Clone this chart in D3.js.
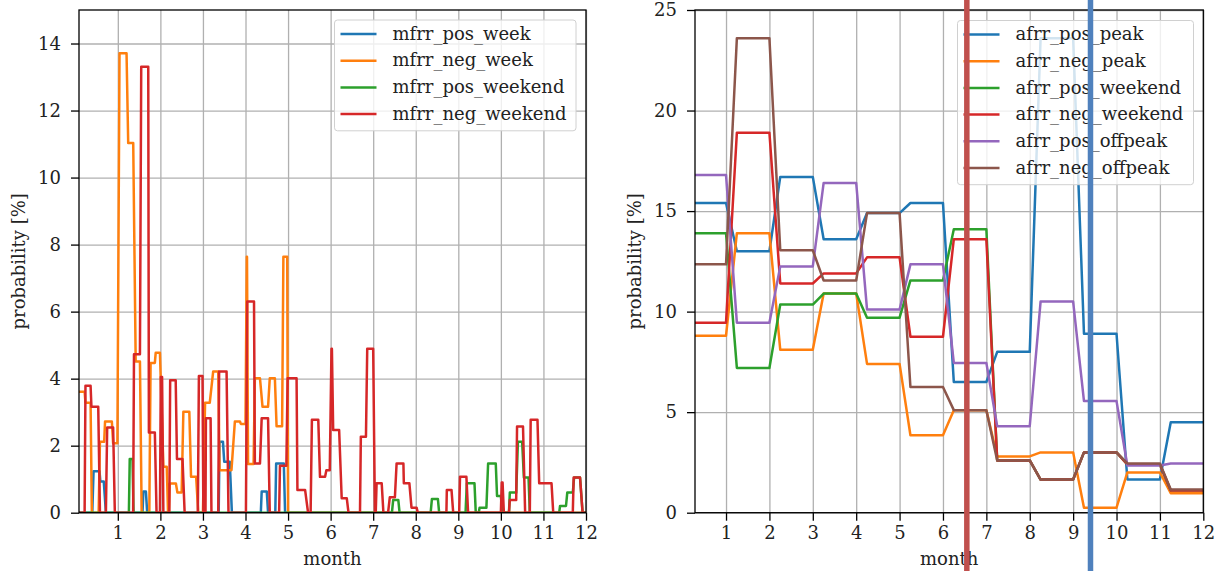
<!DOCTYPE html>
<html>
<head>
<meta charset="utf-8">
<script src="https://cdn.jsdelivr.net/npm/d3@7/dist/d3.min.js"></script>
<style>
  body { margin: 0; background: #fff; }
  svg { font-family: "DejaVu Serif", serif; }
</style>
</head>
<body>
<svg id="chart" width="1216" height="571"></svg>
<script>
// ---- left panel: flat runs, [from month, to month, probability %]
const mfrrPosWeek = [
  [0.088, 0.40, 0], [0.43, 0.57, 1.24], [0.59, 0.67, 0.93], [0.72, 1.58, 0],
  [1.60, 1.66, 0.63], [1.69, 3.37, 0], [3.39, 3.47, 2.12], [3.50, 3.63, 1.52],
  [3.68, 4.36, 0], [4.38, 4.50, 0.63], [4.53, 4.70, 0], [4.72, 4.90, 1.47],
  [4.93, 12.0, 0]
];
const mfrrNegWeek = [
  [0.088, 0.22, 3.61], [0.24, 0.36, 3.28], [0.39, 0.55, 0], [0.58, 0.68, 2.12],
  [0.70, 0.86, 2.72], [0.89, 0.99, 2.07], [1.04, 1.205, 13.71], [1.244, 1.362, 11.03],
  [1.42, 1.52, 4.51], [1.56, 1.74, 0], [1.77, 1.87, 4.47], [1.89, 1.99, 4.77],
  [2.07, 2.15, 1.37], [2.18, 2.20, 0], [2.22, 2.365, 0.87], [2.40, 2.50, 0.6],
  [2.54, 2.68, 3.01], [2.72, 2.84, 1.07], [2.89, 3.00, 0], [3.05, 3.16, 3.28],
  [3.24, 3.36, 4.21], [3.39, 3.67, 1.27], [3.75, 3.87, 2.72], [3.89, 4.00, 2.65],
  [4.03, 4.035, 7.64], [4.06, 4.19, 1.45], [4.22, 4.34, 4.01], [4.40, 4.53, 3.16],
  [4.57, 4.69, 4.01], [4.73, 4.86, 2.58], [4.89, 4.98, 7.64], [5.00, 12.0, 0]
];
const mfrrPosWeekend = [
  [0.088, 1.26, 0], [1.28, 1.345, 1.6], [1.37, 7.44, 0], [7.47, 7.59, 0.38],
  [7.62, 8.35, 0], [8.38, 8.52, 0.41], [8.55, 9.17, 0], [9.20, 9.38, 0.88],
  [9.41, 9.48, 0], [9.50, 9.66, 0.15], [9.70, 9.88, 1.47], [9.91, 10.0, 0.5],
  [10.03, 10.19, 0], [10.21, 10.36, 0.6], [10.40, 10.50, 2.12], [10.54, 10.65, 1.05],
  [10.68, 11.37, 0], [11.39, 11.53, 0.2], [11.56, 11.69, 0.6], [11.72, 11.86, 1.05],
  [11.92, 12.0, 0]
];
const mfrrNegWeekend = [
  [0.088, 0.22, 0], [0.24, 0.36, 3.79], [0.38, 0.54, 3.16], [0.58, 0.72, 0],
  [0.75, 0.89, 2.54], [0.93, 1.36, 0], [1.38, 1.52, 4.73], [1.55, 1.715, 13.31],
  [1.73, 1.87, 2.39], [1.91, 1.99, 0], [2.01, 2.04, 4.05], [2.07, 2.21, 0],
  [2.23, 2.36, 3.95], [2.39, 2.52, 1.6], [2.57, 2.88, 0], [2.905, 2.99, 4.08],
  [3.01, 3.06, 0], [3.07, 3.18, 2.82], [3.20, 3.36, 0], [3.38, 3.555, 4.21],
  [3.60, 4.01, 0], [4.04, 4.20, 6.3], [4.22, 4.34, 1.47], [4.38, 4.53, 2.82],
  [4.57, 4.79, 0], [4.81, 4.96, 1.4], [4.99, 5.20, 4.01], [5.22, 5.40, 0.68],
  [5.47, 5.53, 0], [5.56, 5.71, 2.77], [5.75, 5.87, 1.07], [5.90, 5.98, 1.27],
  [6.02, 6.03, 4.89], [6.06, 6.20, 2.47], [6.26, 6.38, 0.43], [6.42, 6.69, 0],
  [6.71, 6.83, 2.27], [6.86, 7.00, 4.89], [7.04, 7.06, 0], [7.08, 7.20, 0.88],
  [7.24, 7.35, 0], [7.39, 7.51, 0.46], [7.55, 7.71, 1.47], [7.72, 7.85, 0.88],
  [7.90, 8.02, 0.15], [8.05, 8.72, 0], [8.73, 8.84, 0.68], [8.88, 9.02, 0],
  [9.04, 9.19, 1.07], [9.23, 10.0, 0], [10.02, 10.04, 0.9], [10.07, 10.19, 0],
  [10.21, 10.36, 0.38], [10.38, 10.52, 2.57], [10.57, 10.68, 0], [10.70, 10.86, 2.77],
  [10.90, 11.19, 0.88], [11.23, 11.69, 0], [11.71, 11.86, 1.05], [11.92, 12.0, 0]
];
const leftNames = ["mfrr_pos_week", "mfrr_neg_week", "mfrr_pos_weekend", "mfrr_neg_weekend"];
const leftTicksY = [0, 2, 4, 6, 8, 10, 12, 14];

// ---- right panel: one value per month
const months = [1, 2, 3, 4, 5, 6, 7, 8, 9, 10, 11, 12];
const afrrPosPeak     = [15.4, 13.0, 16.7, 13.6, 14.9, 15.4, 6.5, 8.0, 23.6, 8.9, 1.65, 4.5];
const afrrNegPeak     = [8.8, 13.9, 8.1, 10.9, 7.4, 3.85, 5.1, 2.8, 3.0, 0.25, 2.0, 0.97];
const afrrPosWeekend  = [13.9, 7.2, 10.35, 10.9, 9.7, 11.55, 14.1, 2.6, 1.65, 3.0, 2.4, 1.1];
const afrrNegWeekend  = [9.45, 18.9, 11.4, 11.9, 12.7, 8.75, 13.6, 2.6, 1.65, 3.0, 2.4, 1.1];
const afrrPosOffpeak  = [16.8, 9.45, 12.25, 16.4, 10.1, 12.35, 7.45, 4.3, 10.5, 5.55, 2.35, 2.45];
const afrrNegOffpeak  = [12.35, 23.6, 13.05, 11.55, 14.9, 6.25, 5.1, 2.6, 1.65, 3.0, 2.45, 1.15];
const rightNames = ["afrr_pos_peak", "afrr_neg_peak", "afrr_pos_weekend",
                    "afrr_neg_weekend", "afrr_pos_offpeak", "afrr_neg_offpeak"];
const rightTicksY = [0, 5, 10, 15, 20, 25];
const monthTicks = [1, 2, 3, 4, 5, 6, 7, 8, 9, 10, 11, 12];

// two marker lines drawn over the right panel (month positions)
const markerMonths = [6.55, 9.4];
const markerColors = ["#c0504d", "#4f81bd"];

const colors = ["#1f77b4", "#ff7f0e", "#2ca02c", "#d62728", "#9467bd", "#8c564b"];

const svg = d3.select("#chart");
const FS = 18;

function panel(box, xDomain, yDomain, xTicks, yTicks, seriesPts, names, legendBox) {
  const x = d3.scaleLinear().domain(xDomain).range([box.x0, box.x1]);
  const y = d3.scaleLinear().domain(yDomain).range([box.y1, box.y0]);
  const g = svg.append("g");
  const clipId = "clip" + Math.round(box.x0);
  g.append("clipPath").attr("id", clipId).append("rect")
    .attr("x", box.x0).attr("y", box.y0)
    .attr("width", box.x1 - box.x0).attr("height", box.y1 - box.y0);

  // grid
  g.append("g").attr("transform", `translate(0,${box.y1})`)
    .call(d3.axisBottom(x).tickValues(xTicks).tickSize(-(box.y1 - box.y0)).tickFormat(""))
    .call(s => s.select(".domain").remove())
    .call(s => s.selectAll("line").attr("stroke", "#b0b0b0").attr("stroke-width", 1.3));
  g.append("g").attr("transform", `translate(${box.x0},0)`)
    .call(d3.axisLeft(y).tickValues(yTicks).tickSize(-(box.x1 - box.x0)).tickFormat(""))
    .call(s => s.select(".domain").remove())
    .call(s => s.selectAll("line").attr("stroke", "#b0b0b0").attr("stroke-width", 1.3));

  // lines
  const line = d3.line().x(d => x(d[0])).y(d => y(d[1]));
  g.append("g").attr("clip-path", `url(#${clipId})`)
    .selectAll("path").data(seriesPts).join("path")
    .attr("d", line)
    .attr("fill", "none")
    .attr("stroke", (d, i) => colors[i])
    .attr("stroke-width", 2.5)
    .attr("stroke-linejoin", "round");

  // axes
  const ax = g.append("g").attr("transform", `translate(0,${box.y1})`)
    .call(d3.axisBottom(x).tickValues(xTicks).tickSize(8).tickPadding(6));
  const ay = g.append("g").attr("transform", `translate(${box.x0},0)`)
    .call(d3.axisLeft(y).tickValues(yTicks).tickSize(8).tickPadding(10));
  [ax, ay].forEach(a => {
    a.select(".domain").remove();
    a.selectAll("line").attr("stroke", "#000").attr("stroke-width", 1.3);
    a.selectAll("text").attr("font-family", "DejaVu Serif").attr("font-size", FS).attr("fill", "#222");
  });
  g.append("rect").attr("x", box.x0).attr("y", box.y0)
    .attr("width", box.x1 - box.x0).attr("height", box.y1 - box.y0)
    .attr("fill", "none").attr("stroke", "#000").attr("stroke-width", 1.3);

  g.append("text").attr("x", (box.x0 + box.x1) / 2).attr("y", 565)
    .attr("text-anchor", "middle").attr("font-size", FS).attr("fill", "#222").text("month");
  g.append("text")
    .attr("transform", `translate(${box.x0 - 54},${(box.y0 + box.y1) / 2}) rotate(-90)`)
    .attr("text-anchor", "middle").attr("font-size", FS).attr("fill", "#222").text("probability [%]");

  // legend
  const rowH = 26.7;
  const lg = g.append("g");
  lg.append("rect").attr("x", legendBox.x).attr("y", legendBox.y)
    .attr("width", legendBox.w).attr("height", names.length * rowH + 4)
    .attr("rx", 3).attr("fill", "#fff").attr("fill-opacity", 0.8)
    .attr("stroke", "#d0d0d0").attr("stroke-width", 1);
  const rows = lg.selectAll("g.row").data(names).join("g").attr("class", "row")
    .attr("transform", (d, i) => `translate(${legendBox.x},${legendBox.y + 14 + i * rowH})`);
  rows.append("line").attr("x1", 6).attr("x2", 42).attr("y1", 0).attr("y2", 0)
    .attr("stroke", (d, i) => colors[i]).attr("stroke-width", 2.5);
  rows.append("text").attr("x", 58).attr("y", 0).attr("dy", "0.32em")
    .attr("font-size", FS).attr("fill", "#222").text(d => d);
  return { x, y };
}

const runPts = runs => runs.flatMap(r => [[r[0], r[2]], [r[1], r[2]]]);
const leftPts = [mfrrPosWeek, mfrrNegWeek, mfrrPosWeekend, mfrrNegWeekend].map(runPts);
panel({ x0: 79, x1: 586, y0: 10, y1: 512.7 }, [0.088, 12], [0, 15], monthTicks, leftTicksY,
  leftPts, leftNames, { x: 334.5, y: 20, w: 241.5 });

const monthPts = vals => months.flatMap((m, i) => [[m - 0.75, vals[i]], [m, vals[i]]]);
const rightPts = [afrrPosPeak, afrrNegPeak, afrrPosWeekend, afrrNegWeekend, afrrPosOffpeak, afrrNegOffpeak]
  .map(monthPts);
const rp = panel({ x0: 695, x1: 1203.3, y0: 10, y1: 512.7 }, [0.285, 12], [0, 25], monthTicks, rightTicksY,
  rightPts, rightNames, { x: 957.5, y: 20.5, w: 236 });

// marker lines across the whole picture height
svg.append("g").selectAll("line").data(markerMonths).join("line")
  .attr("x1", d => rp.x(d)).attr("x2", d => rp.x(d))
  .attr("y1", 0).attr("y2", 571)
  .attr("stroke", (d, i) => markerColors[i]).attr("stroke-width", 5.5);
</script>
</body>
</html>
